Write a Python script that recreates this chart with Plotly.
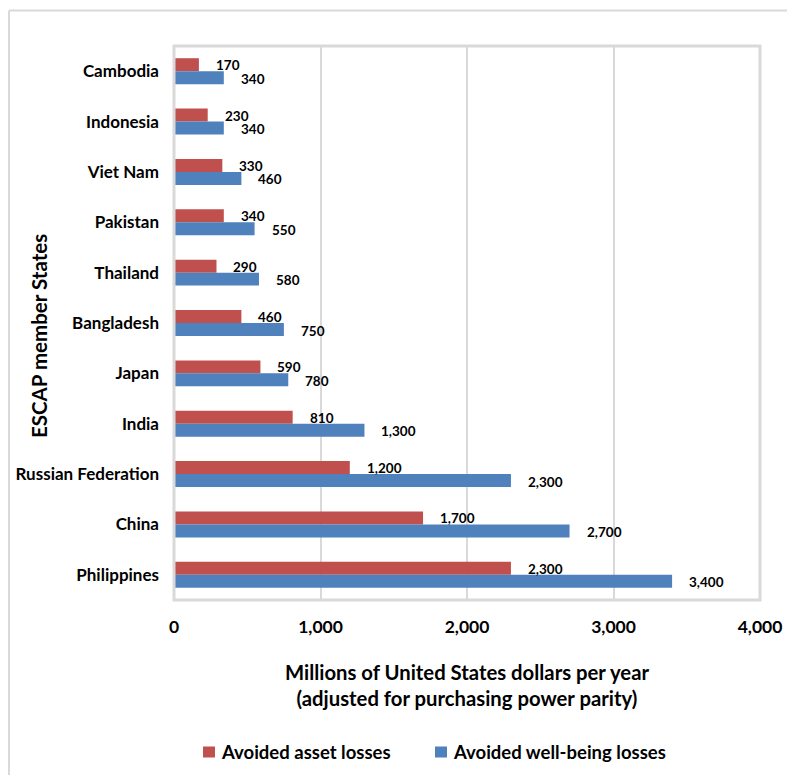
import plotly.graph_objects as go

# ---- data ----
countries = ["Cambodia", "Indonesia", "Viet Nam", "Pakistan", "Thailand", "Bangladesh",
             "Japan", "India", "Russian Federation", "China", "Philippines"]
asset_losses = [170, 230, 330, 340, 290, 460, 590, 810, 1200, 1700, 2300]
wellbeing_losses = [340, 340, 460, 550, 580, 750, 780, 1300, 2300, 2700, 3400]
x_tick_vals = [0, 1000, 2000, 3000, 4000]
x_tick_labels = ["0", "1,000", "2,000", "3,000", "4,000"]
series_names = ["Avoided asset losses", "Avoided well-being losses"]

# ---- layout geometry (pixels) ----
W, H = 787, 775
PL, PR, PT, PB = 174, 760, 46, 600


def px_x(p):
    return (p - PL) / (PR - PL)


def px_y(p):
    return (PB - p) / (PB - PT)


FONT = "Lato"
RED = "#C0504D"
BLUE = "#4F81BD"
GRID = "#D9D9D9"
colors = [RED, BLUE]

fig = go.Figure()
fig.add_trace(go.Bar(y=countries, x=asset_losses, orientation="h", name=series_names[0],
                     marker=dict(color=RED, line=dict(width=0))))
fig.add_trace(go.Bar(y=countries, x=wellbeing_losses, orientation="h", name=series_names[1],
                     marker=dict(color=BLUE, line=dict(width=0))))

annotations = []
for vals, ys in ((asset_losses, 6), (wellbeing_losses, -7.5)):
    for c, v in zip(countries, vals):
        annotations.append(dict(x=v, y=c, xref="x", yref="y", text=f"{v:,}", showarrow=False,
                                xanchor="left", yanchor="middle", xshift=15, yshift=ys,
                                font=dict(family=FONT, size=13.5, color="#000", weight=700)))

# axis titles
annotations.append(dict(x=px_x(39), y=px_y(336), xref="paper", yref="paper",
                        text="ESCAP member States", textangle=-90, showarrow=False,
                        xanchor="center", yanchor="middle",
                        font=dict(family=FONT, size=20.5, color="#000", weight=700)))
annotations.append(dict(x=0.5, y=px_y(684.5), xref="paper", yref="paper",
                        text="Millions of United States dollars per year<br>(adjusted for purchasing power parity)",
                        showarrow=False, xanchor="center", yanchor="middle", align="center",
                        font=dict(family=FONT, size=20.3, color="#000", weight=700)))

shapes = [
    # plot frame
    dict(type="rect", xref="paper", yref="paper", x0=0, x1=1, y0=0, y1=1,
         line=dict(color=GRID, width=3), layer="above"),
    # outer chart border (top and left visible)
    dict(type="line", xref="paper", yref="paper", x0=px_x(9), x1=px_x(800), y0=px_y(10.5), y1=px_y(10.5),
         line=dict(color=GRID, width=2)),
    dict(type="line", xref="paper", yref="paper", x0=px_x(9), x1=px_x(9), y0=px_y(10.5), y1=px_y(800),
         line=dict(color=GRID, width=2)),
]

# legend (drawn as key squares + labels)
legend_key_x = [203, 435]
legend_y = 752
for name, col, kx in zip(series_names, colors, legend_key_x):
    shapes.append(dict(type="rect", xref="paper", yref="paper",
                       x0=px_x(kx), x1=px_x(kx + 12), y0=px_y(legend_y - 5.5), y1=px_y(legend_y + 5.5),
                       fillcolor=col, line=dict(width=0)))
    annotations.append(dict(x=px_x(kx + 16), y=px_y(legend_y), xref="paper", yref="paper",
                            text=name, showarrow=False, xanchor="left", yanchor="middle",
                            font=dict(family=FONT, size=18.5, color="#000", weight=700)))

fig.update_layout(
    width=W, height=H,
    margin=dict(l=PL, r=W - PR, t=PT, b=H - PB, pad=0, autoexpand=False),
    paper_bgcolor="white", plot_bgcolor="white",
    barmode="group", bargap=0.485, bargroupgap=0,
    font=dict(family=FONT, color="#000"),
    showlegend=False,
    annotations=annotations,
    shapes=shapes,
)
fig.update_xaxes(range=[0, 4000], tickvals=x_tick_vals, ticktext=x_tick_labels,
                 showgrid=True, gridcolor=GRID, gridwidth=2, zeroline=False, showline=False,
                 ticks="", ticklabelstandoff=14,
                 tickfont=dict(family=FONT, size=17.5, color="#000", weight=700))
fig.update_yaxes(type="category", categoryorder="array", categoryarray=countries,
                 autorange="reversed", showgrid=False, zeroline=False, showline=False,
                 ticks="", ticklabelstandoff=14,
                 tickfont=dict(family=FONT, size=17, color="#000", weight=700))

fig.write_html("out.html")
